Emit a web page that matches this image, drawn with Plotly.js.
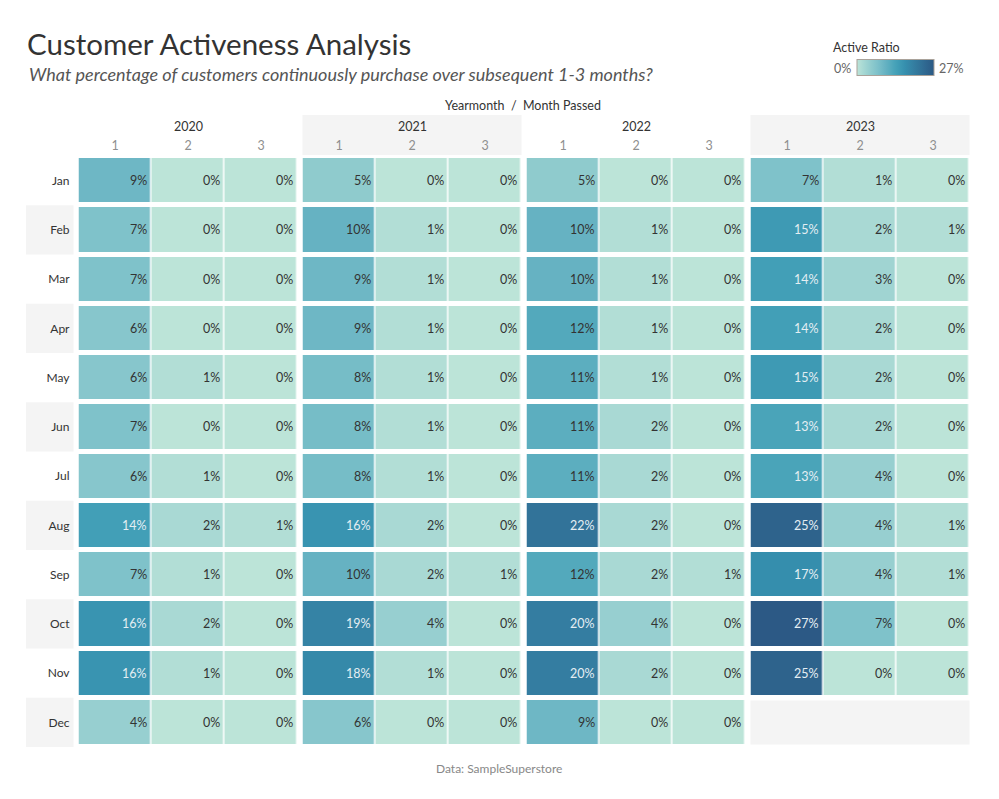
<!DOCTYPE html>
<html>
<head>
<meta charset="utf-8">
<script src="https://cdn.plot.ly/plotly-3.0.1.min.js"></script>
<style>html,body{margin:0;padding:0;background:#fff;}#chart{width:999px;height:799px;}</style>
</head>
<body>
<div id="chart"></div>
<script>
const months = ['Jan','Feb','Mar','Apr','May','Jun','Jul','Aug','Sep','Oct','Nov','Dec'];
const years = ['2020','2021','2022','2023'];
const passed = ['1','2','3'];

const r2020_m1 = [9,7,7,6,6,7,6,14,7,16,16,4];
const r2020_m2 = [0,0,0,0,1,0,1,2,1,2,1,0];
const r2020_m3 = [0,0,0,0,0,0,0,1,0,0,0,0];
const r2021_m1 = [5,10,9,9,8,8,8,16,10,19,18,6];
const r2021_m2 = [0,1,1,1,1,1,1,2,2,4,1,0];
const r2021_m3 = [0,0,0,0,0,0,0,0,1,0,0,0];
const r2022_m1 = [5,10,10,12,11,11,11,22,12,20,20,9];
const r2022_m2 = [0,1,1,1,1,2,2,2,2,4,2,0];
const r2022_m3 = [0,0,0,0,0,0,0,0,1,0,0,0];
const r2023_m1 = [7,15,14,14,15,13,13,25,17,27,25,null];
const r2023_m2 = [1,2,3,2,2,2,4,4,4,7,0,null];
const r2023_m3 = [0,1,0,0,0,0,0,1,1,0,0,null];

const yearCols = [
  [r2020_m1, r2020_m2, r2020_m3],
  [r2021_m1, r2021_m2, r2021_m3],
  [r2022_m1, r2022_m2, r2022_m3],
  [r2023_m1, r2023_m2, r2023_m3]
];

const blueTeal = ['#bce4d8','#aedcd5','#a1d5d2','#95cecf','#89c8cc','#7ec1ca','#72bac6','#66b2c2','#59acbe','#4ba5ba','#419eb6','#3b96b2','#358ead','#3586a7','#347ea1','#32779b','#316f96','#2f6790','#2d608a','#2c5985'];
const colorscale = blueTeal.map((c,i)=>[i/(blueTeal.length-1), c]);

const W = 999, H = 799;
const px = v => v / W;
const py = v => 1 - v / H;
const blockStarts = [78.5, 302.5, 526.5, 750.5];
const blockW = 219;
const axNames = ['x','x2','x3','x4'];
const axKeys = ['xaxis','xaxis2','xaxis3','xaxis4'];
const FONT = 'Lato, "Noto Sans", sans-serif';

const traces = [];
const annotations = [];
const shapes = [];
const layout = {
  width: W, height: H,
  margin: {l:0, r:0, t:0, b:0},
  paper_bgcolor: '#ffffff',
  plot_bgcolor: 'rgba(0,0,0,0)',
  font: {family: FONT, color: '#333'},
  showlegend: false,
  title: {text: 'Customer Activeness Analysis', x: px(27), xanchor: 'left', xref: 'paper', y: py(45), yanchor: 'middle', yref: 'paper',
          font: {family: FONT, size: 29.5, color: '#333'}},
  coloraxis: {
    cmin: 0, cmax: 27, colorscale: colorscale,
    colorbar: {
      orientation: 'h', x: px(895.5), xanchor: 'center', y: py(68), yanchor: 'middle',
      xref: 'paper', yref: 'paper',
      lenmode: 'pixels', len: 77, thickness: 16, thicknessmode: 'pixels',
      outlinecolor: '#a9a29a', outlinewidth: 1, xpad: 0, ypad: 0,
      showticklabels: false, ticks: '', title: {text: ''}
    }
  },
  yaxis: {
    type: 'category', categoryarray: months, range: [11.5, -0.5],
    domain: [py(747), py(156)], anchor: 'x',
    showgrid: false, zeroline: false, showline: false, ticks: '',
    ticklabelstandoff: 8,
    tickfont: {family: FONT, size: 12, color: '#333'}, fixedrange: true
  },
  annotations: annotations,
  shapes: shapes
};

years.forEach((yr, b) => {
  const cols = yearCols[b];
  const z = months.map((m, i) => cols.map(c => c[i]));
  traces.push({
    type: 'heatmap', x: passed, y: months, z: z,
    xaxis: axNames[b], yaxis: 'y', coloraxis: 'coloraxis',
    xgap: 1.5, ygap: 5, hoverinfo: 'skip'
  });
  layout[axKeys[b]] = {
    type: 'category', categoryarray: passed, range: [-0.5, 2.5],
    domain: [px(blockStarts[b]), px(blockStarts[b] + blockW)],
    anchor: 'y', side: 'top',
    showgrid: false, zeroline: false, showline: false, ticks: '',
    ticklabelstandoff: 3,
    tickfont: {family: FONT, size: 12.5, color: '#8f8f8f'}, fixedrange: true
  };
  // year header
  annotations.push({
    text: yr, xref: axNames[b] + ' domain', x: 0.5, yref: 'paper', y: py(126),
    xanchor: 'center', yanchor: 'middle', showarrow: false,
    font: {family: FONT, size: 12.5, color: '#333'}
  });
  if (b % 2 === 1) {
    shapes.push({type: 'rect', layer: 'below', xref: axNames[b] + ' domain', x0: 0, x1: 1,
      yref: 'paper', y0: py(155), y1: py(115), fillcolor: '#f4f4f4', line: {width: 0}});
  }
  // cell labels
  cols.forEach((c, j) => {
    c.forEach((v, i) => {
      if (v === null) return;
      annotations.push({
        text: v + '%', xref: axNames[b], yref: 'y', x: j + 0.5, y: i,
        xanchor: 'right', yanchor: 'middle', xshift: -3, showarrow: false,
        font: {family: FONT, size: 12.5, color: v >= 13 ? '#e4eef3' : '#333'}
      });
    });
  });
});

// missing cell (Dec 2023) and banded row headers
months.forEach((m, i) => {
  if (r2023_m1[i] === null) {
    shapes.push({type: 'rect', layer: 'below', xref: 'x4 domain', x0: 0, x1: 1,
      yref: 'y', ysizemode: 'pixel', yanchor: i, y0: -22, y1: 22,
      fillcolor: '#f4f4f4', line: {width: 0}});
  }
  if (i % 2 === 1) {
    shapes.push({type: 'rect', layer: 'below', xref: 'paper', x0: px(26), x1: px(73.5),
      yref: 'y', y0: i - 0.5, y1: i + 0.5, fillcolor: '#f4f4f4', line: {width: 0}});
  }
});

annotations.push(
  {text: 'What percentage of customers continuously purchase over subsequent 1-3 months?', xref: 'paper', yref: 'paper',
   x: px(27), y: py(74), xanchor: 'left', yanchor: 'middle', showarrow: false,
   font: {family: FONT, size: 18, color: '#555', style: 'italic'}},
  {text: 'Yearmonth  /  Month Passed', xref: 'paper', yref: 'paper', x: px(523), y: py(105),
   xanchor: 'center', yanchor: 'middle', showarrow: false, font: {family: FONT, size: 12.5, color: '#333'}},
  {text: 'Active Ratio', xref: 'paper', yref: 'paper', x: px(831), y: py(47),
   xanchor: 'left', yanchor: 'middle', showarrow: false, font: {family: FONT, size: 12.5, color: '#333'}},
  {text: '0%', xref: 'paper', yref: 'paper', x: px(853), y: py(68),
   xanchor: 'right', yanchor: 'middle', showarrow: false, font: {family: FONT, size: 12.5, color: '#666'}},
  {text: '27%', xref: 'paper', yref: 'paper', x: px(937), y: py(68),
   xanchor: 'left', yanchor: 'middle', showarrow: false, font: {family: FONT, size: 12.5, color: '#666'}},
  {text: 'Data: SampleSuperstore', xref: 'paper', yref: 'paper', x: px(499), y: py(768),
   xanchor: 'center', yanchor: 'middle', showarrow: false, font: {family: FONT, size: 12, color: '#888'}}
);

Plotly.newPlot('chart', traces, layout, {displayModeBar: false, staticPlot: true});
</script>
</body>
</html>
